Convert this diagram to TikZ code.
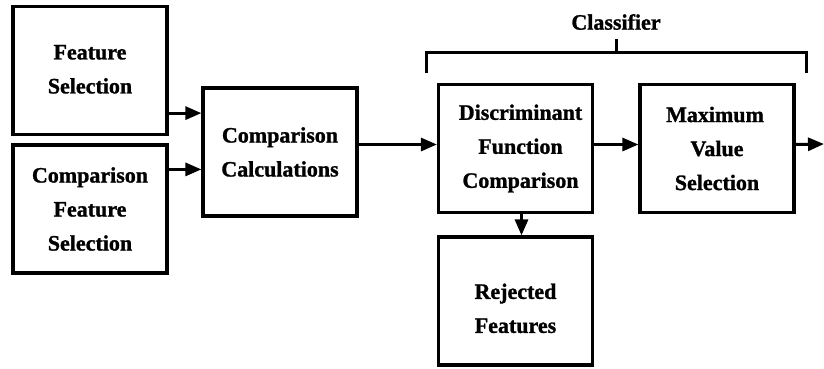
\documentclass[tikz,border=0pt]{standalone}
\usepackage{fontspec}
\setmainfont{Liberation Serif}[BoldFeatures={FakeBold=1.2}]
\usetikzlibrary{arrows.meta,calc}
\begin{document}
\begin{tikzpicture}[x=1pt,y=-1pt,
  box/.style={draw,line width=3.2pt,minimum width=154pt,minimum height=128pt,inner sep=0pt,align=center,
    font=\fontsize{22}{34}\selectfont\bfseries},
  arr/.style={line width=3pt,-{Triangle[length=16pt,width=13pt]}},
  brk/.style={line width=3pt}]
\useasboundingbox (0,0) rectangle (824,368);
\node[box] (fs) at (90,70.5) {\\[-22pt]Feature\\Selection};
\node[box] (cfs) at (90,209) {Comparison\\Feature\\Selection};
\node[box] (cc) at (280,152) {Comparison\\Calculations};
\node[box] (disc) at (515.5,148.5) {\hspace*{10pt}Discriminant\\\hspace*{10pt}Function\\\hspace*{10pt}Comparison};
\node[box] (max) at (717,148.5) {Maximum\hspace*{4pt}\\Value\\Selection};
\node[box] (rej) at (515.5,301) {\\[-4pt]Rejected\\Features};
\node[font=\fontsize{22}{26}\selectfont\bfseries] (cls) at (616,22) {Classifier};
\coordinate (out) at (824,144);
\draw[arr] ([yshift=23pt]fs.south east) -- ([yshift=23pt]fs.south east -| cc.west);
\draw[arr] ([yshift=-26pt]cfs.north east) -- ([yshift=-26pt]cfs.north east -| cc.west);
\draw[arr] ([yshift=4pt]disc.west -| cc.east) -- ([yshift=4pt]disc.west);
\draw[arr] ([yshift=4pt]disc.east) -- ([yshift=4pt]max.west);
\draw[arr] ([yshift=4pt]max.east) -- (out);
\draw[arr] ([xshift=6pt]disc.south) -- ([xshift=6pt]rej.north);
\draw[brk] (426,73) -- (426,52) -- (806,52) -- (806,73);
\draw[brk] (616,52) -- (616,39);
\end{tikzpicture}
\end{document}
